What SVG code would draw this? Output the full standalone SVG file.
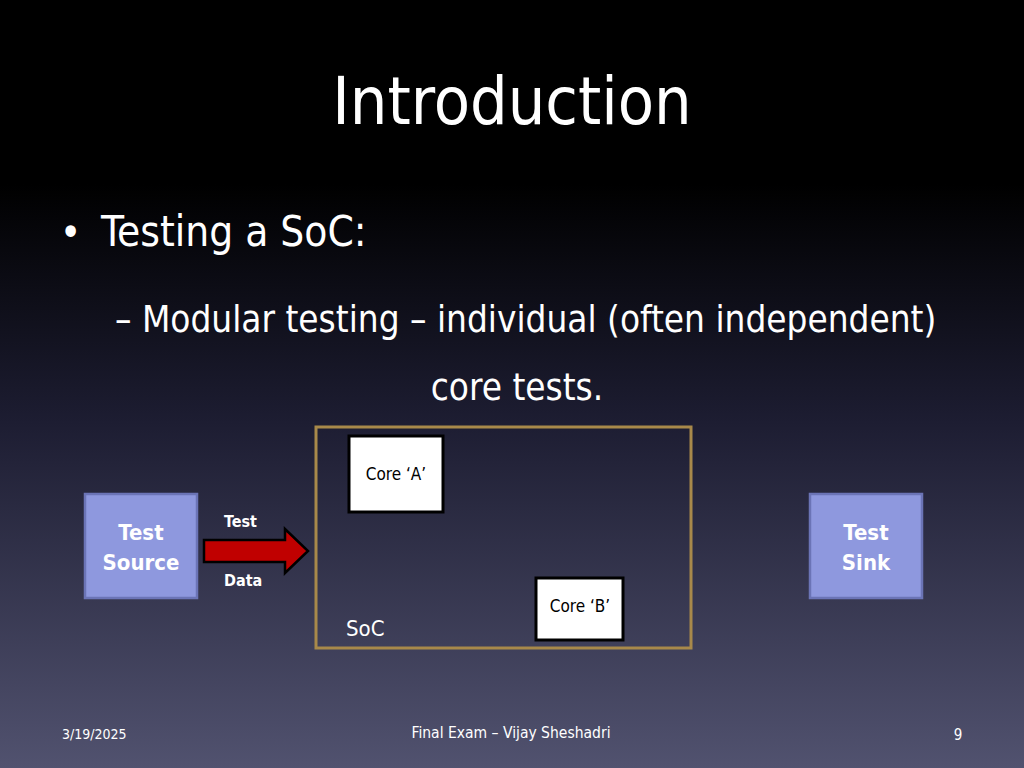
<svg xmlns="http://www.w3.org/2000/svg" width="1024" height="768" viewBox="0 0 1024 768">
<defs>
<linearGradient id="bg" x1="0" y1="0" x2="0" y2="1">
<stop offset="0" stop-color="#000000"/>
<stop offset="0.24" stop-color="#000000"/>
<stop offset="0.55" stop-color="#1d1d32"/>
<stop offset="1" stop-color="#51526f"/>
</linearGradient>
<style>
.t{font-family:"DejaVu Sans Condensed","DejaVu Sans",sans-serif;font-stretch:condensed;fill:#fff}
.blk{font-family:"DejaVu Sans Condensed","DejaVu Sans",sans-serif;font-stretch:condensed;fill:#000;font-size:17px}
.lbl{font-family:"DejaVu Sans Condensed","DejaVu Sans",sans-serif;font-stretch:condensed;fill:#fff;font-weight:bold}
.tb{fill:#8e98de;stroke:#6b74b6;stroke-width:2.5}
.core{fill:#fff;stroke:#000;stroke-width:3}
</style>
</defs>
<rect width="1024" height="768" fill="url(#bg)"/>
<text class="t" x="512" y="124" font-size="66" text-anchor="middle">Introduction</text>
<text class="t" x="60" y="246" font-size="40">•</text>
<text class="t" x="101" y="246" font-size="42">Testing a SoC:</text>
<text class="t" x="115" y="332" font-size="36.6">– Modular testing – individual (often independent)</text>
<text class="t" x="517" y="400" font-size="36.6" text-anchor="middle">core tests.</text>
<g id="soc">
<rect x="316" y="427" width="375" height="221" fill="none" stroke="#a8894a" stroke-width="3"/>
<text class="t" x="346" y="636" font-size="22">SoC</text>
</g>
<g id="coreA">
<rect class="core" x="349" y="436" width="94" height="76"/>
<text class="blk" x="396" y="480" text-anchor="middle">Core ‘A’</text>
</g>
<g id="coreB">
<rect class="core" x="536" y="578" width="87" height="62"/>
<text class="blk" x="580" y="612" text-anchor="middle">Core ‘B’</text>
</g>
<g id="testSource">
<rect class="tb" x="85" y="494" width="112" height="104"/>
<text class="lbl" x="141" y="540" font-size="22" text-anchor="middle">Test</text>
<text class="lbl" x="141" y="570" font-size="22" text-anchor="middle">Source</text>
</g>
<g id="testSink">
<rect class="tb" x="810" y="494" width="112" height="104"/>
<text class="lbl" x="866" y="540" font-size="22" text-anchor="middle">Test</text>
<text class="lbl" x="866" y="570" font-size="22" text-anchor="middle">Sink</text>
</g>
<g id="connectors">
<polygon points="204,540 285,540 285,529 308,551 285,573 285,562 204,562" fill="#c00000" stroke="#000" stroke-width="2.5" stroke-linejoin="miter"/>
<text class="lbl" x="224" y="527" font-size="16">Test</text>
<text class="lbl" x="224" y="586" font-size="16">Data</text>
</g>
<text class="t" x="62" y="739" font-size="14">3/19/2025</text>
<text class="t" x="511" y="738" font-size="15.5" text-anchor="middle">Final Exam – Vijay Sheshadri</text>
<text class="t" x="958" y="740" font-size="15" text-anchor="middle">9</text>
</svg>
